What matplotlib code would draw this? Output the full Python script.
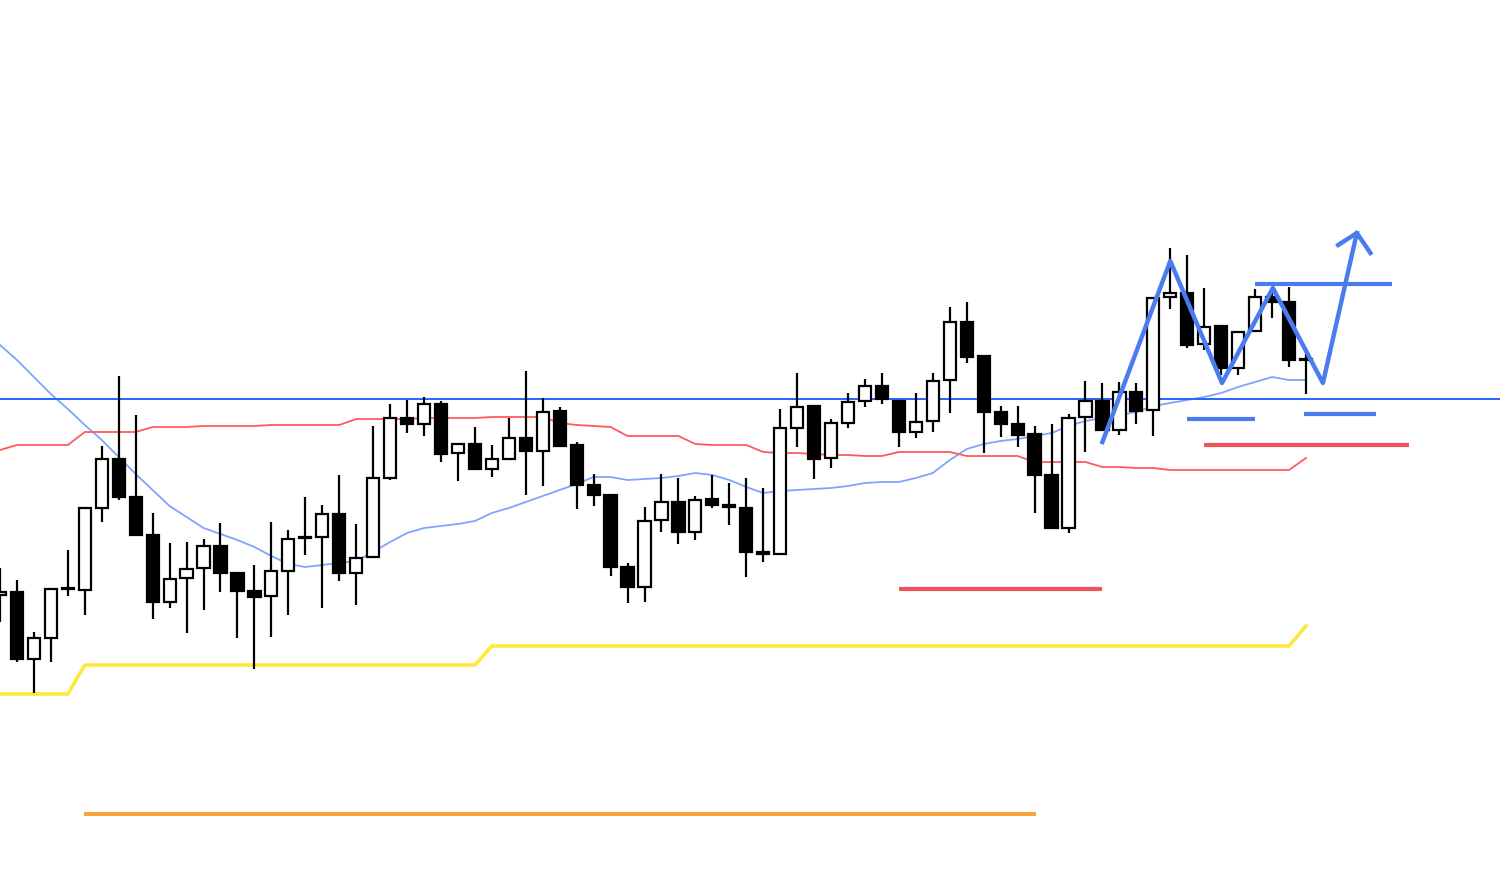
import numpy as np
import matplotlib
matplotlib.use("Agg")
import matplotlib.pyplot as plt

# OHLC candles (arbitrary price units)
opens = [280, 283, 216, 237, 286, 285, 367, 416, 378, 340,
         273, 297, 307, 329, 302, 284, 279, 304, 337, 338,
         361, 302, 318, 397, 457, 451, 471, 422, 431, 406,
         416, 437, 424, 464, 430, 390, 380, 308, 288, 355,
         373, 343, 376, 370, 367, 323, 321, 447, 469, 417,
         452, 474, 489, 474, 443, 454, 495, 553, 519, 463,
         451, 441, 400, 347, 458, 474, 445, 483, 465, 578,
         582, 531, 549, 507, 544, 578, 573, 516]
highs = [307, 295, 243, 287, 325, 368, 429, 499, 460, 362,
         332, 333, 336, 352, 302, 310, 353, 345, 378, 370,
         400, 351, 449, 471, 475, 478, 474, 431, 448, 430,
         457, 504, 477, 468, 433, 401, 380, 312, 368, 401,
         397, 379, 400, 392, 397, 387, 466, 502, 469, 456,
         482, 496, 502, 474, 482, 502, 568, 573, 519, 469,
         469, 449, 451, 461, 494, 492, 493, 492, 577, 627,
         620, 587, 550, 543, 586, 588, 588, 527]
lows = [253, 213, 182, 213, 279, 260, 353, 375, 340, 256,
        267, 242, 265, 283, 237, 206, 238, 260, 320, 267,
        294, 270, 318, 395, 442, 439, 413, 394, 406, 398,
        416, 380, 389, 429, 366, 369, 299, 272, 273, 343,
        331, 335, 367, 350, 298, 313, 321, 428, 396, 407,
        447, 468, 471, 428, 437, 443, 462, 512, 422, 438,
        428, 362, 347, 342, 423, 445, 440, 451, 439, 566,
        527, 525, 500, 500, 544, 557, 508, 481]
closes = [283, 216, 237, 286, 287, 367, 416, 378, 340, 273,
          296, 306, 329, 302, 284, 278, 304, 336, 338, 361,
          302, 317, 397, 457, 451, 471, 421, 431, 406, 416,
          437, 424, 463, 429, 390, 380, 308, 288, 354, 373,
          343, 375, 370, 368, 323, 321, 447, 468, 416, 452,
          473, 489, 476, 443, 453, 494, 553, 518, 463, 451,
          440, 400, 347, 457, 474, 445, 483, 464, 577, 582,
          530, 548, 507, 543, 578, 573, 515, 515]

# moving average (light blue)
ma = [530, 515, 498, 481, 466, 450, 435, 418, 401, 385,
      369, 358, 347, 341, 335, 328, 319, 311, 308, 310,
      312, 314, 323, 333, 342, 347, 349, 351, 354, 362,
      367, 373, 379, 385, 391, 398, 398, 395, 396, 397,
      399, 402, 400, 395, 388, 382, 384, 385, 386, 387,
      389, 392, 393, 393, 397, 402, 415, 426, 431, 434,
      436, 439, 442, 449, 454, 457, 460, 463, 469, 472,
      475, 478, 482, 488, 493, 498, 495, 495]

# base line (red)
base = [425, 430, 430, 430, 430, 443, 443, 443, 443, 448,
        448, 448, 449, 449, 449, 449, 450, 450, 450, 450,
        450, 456, 456, 456, 456, 457, 457, 457, 457, 458,
        458, 458, 458, 452, 450, 449, 448, 439, 439, 439,
        439, 431, 430, 430, 430, 423, 422, 422, 421, 420,
        420, 419, 419, 423, 423, 423, 423, 419, 419, 419,
        419, 413, 413, 413, 413, 408, 408, 407, 407, 405,
        405, 405, 405, 405, 405, 405, 405, 417]

# lagging support line (yellow)
support = [181] * 5 + [210] * 24 + [229] * 48 + [249]

# drawn levels
resistance = 476
orange_level, orange_from, orange_to = 61, 4.95, 61.1
red_levels = [(286, 53.0, 65.0), (430, 71.0, 83.1)]
blue_levels = [(456, 70.0, 74.0), (461, 76.9, 81.1), (591, 74.0, 82.1)]
zig_x = [65.0, 69.0, 72.05, 75.05, 78.0, 80.0]
zig_y = [433, 614, 492, 587, 492, 642]
head_x = [78.9, 80.0, 80.8]
head_y = [630, 642, 622]

opens = np.array(opens, float)
closes = np.array(closes, float)
highs = np.array(highs, float)
lows = np.array(lows, float)
idx = np.arange(len(opens))

fig = plt.figure(figsize=(15, 8.75), dpi=100)
ax = fig.add_axes([0, 0, 1, 1])

# indicators
ax.plot(idx, ma, color="#7fa3ff", lw=1.3, zorder=1)
ax.plot(idx, base, color="#ff5a5a", lw=1.3, zorder=1)
ax.plot(idx, support, color="#ffe83a", lw=2.6, zorder=1)

ax.axhline(resistance, color="#2962ff", lw=1.4, zorder=1)

# candles
up = closes >= opens
ax.vlines(idx, lows, highs, color="black", lw=1.6, zorder=2)
bottoms = np.minimum(opens, closes)
heights = np.maximum(np.abs(closes - opens), 1.5)
ax.bar(idx[up], heights[up], bottom=bottoms[up], width=0.72,
       color="white", edgecolor="black", linewidth=1.6, zorder=3)
ax.bar(idx[~up], heights[~up], bottom=bottoms[~up], width=0.72,
       color="black", edgecolor="black", linewidth=1.6, zorder=3)

# hand drawn lines
ax.plot([orange_from, orange_to], [orange_level, orange_level],
        color="#f7a335", lw=2.8, solid_capstyle="butt", zorder=4)
for lvl, a, b in red_levels:
    ax.plot([a, b], [lvl, lvl], color="#f2525e", lw=3, solid_capstyle="butt", zorder=4)
for lvl, a, b in blue_levels:
    ax.plot([a, b], [lvl, lvl], color="#4a7cf0", lw=3, solid_capstyle="butt", zorder=4)
ax.plot(zig_x, zig_y, color="#4a7cf0", lw=3.2, zorder=5)
ax.plot(head_x, head_y, color="#4a7cf0", lw=3.2, zorder=5)

ax.set_xlim(0, 88.44)
ax.set_ylim(0, 875)
ax.axis("off")

plt.savefig("out.png", dpi=100)
